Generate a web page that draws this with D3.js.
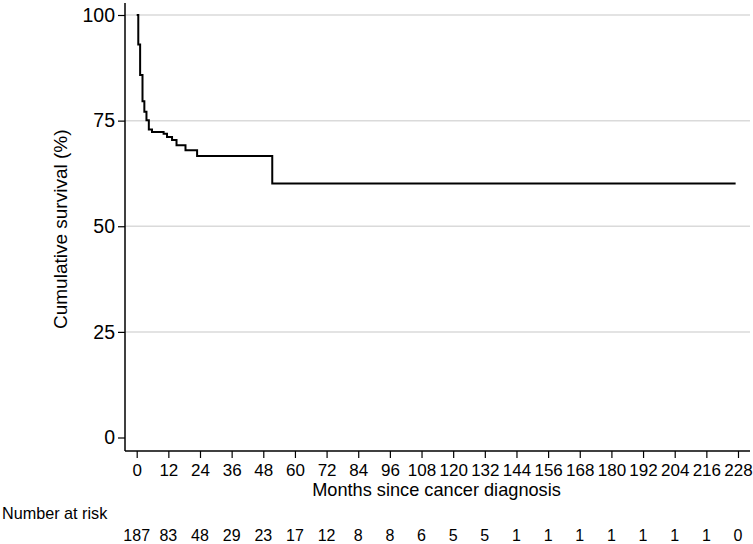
<!DOCTYPE html>
<html><head><meta charset="utf-8">
<script src="https://cdn.jsdelivr.net/npm/d3@7"></script>
<style>body{margin:0;background:#fff;} svg{display:block;font-family:"Liberation Sans",Arial,sans-serif;}</style>
</head><body>
<script>
const eventMonths = [0, 0.6, 1.3, 2.2, 2.9, 3.7, 4.6, 5.8, 10.2, 11.5, 13.4, 15.1, 18.5, 22.9, 51.4, 227.1];
const survivalPct = [100, 93.0, 85.8, 79.6, 77.1, 75.1, 72.9, 72.3, 71.9, 71.1, 70.4, 69.2, 68.0, 66.6, 60.1, 60.1];
const xTicks = [0,12,24,36,48,60,72,84,96,108,120,132,144,156,168,180,192,204,216,228];
const yTicks = [0,25,50,75,100];
const numberAtRisk = [187,83,48,29,23,17,12,8,8,6,5,5,1,1,1,1,1,1,1,0];

const W=753,H=544;
const svg=d3.select("body").append("svg").attr("width",W).attr("height",H);
const x=d3.scaleLinear().domain([0,228]).range([136.7,738]);
const y=d3.scaleLinear().domain([0,100]).range([437.5,15]);
const axL=125, axR=750, axB=451, axT=3;

// gridlines
svg.append("g").selectAll("line").data(yTicks.filter(d=>d>0)).join("line")
  .attr("x1",axL).attr("x2",axR).attr("y1",d=>y(d)).attr("y2",d=>y(d))
  .attr("stroke","#dadada").attr("stroke-width",1.5);

// y axis
const ya=svg.append("g").attr("transform",`translate(${axL},0)`)
  .call(d3.axisLeft(y).tickValues(yTicks).tickSize(7).tickPadding(3));
ya.select(".domain").remove();
ya.selectAll(".tick line").attr("stroke","#000").attr("stroke-width",1.2);
ya.selectAll(".tick text").attr("font-size",19.5).attr("fill","#000").attr("font-family","Liberation Sans, Arial, sans-serif");
svg.append("line").attr("x1",axL).attr("x2",axL).attr("y1",axT).attr("y2",axB).attr("stroke","#000").attr("stroke-width",1.5);

// x axis
const xa=svg.append("g").attr("transform",`translate(0,${axB})`)
  .call(d3.axisBottom(x).tickValues(xTicks).tickSize(7).tickPadding(6));
xa.select(".domain").remove();
xa.selectAll(".tick line").attr("stroke","#000").attr("stroke-width",1.2);
xa.selectAll(".tick text").attr("font-size",17).attr("fill","#000").attr("font-family","Liberation Sans, Arial, sans-serif");
svg.append("line").attr("x1",axL).attr("x2",axR).attr("y1",axB).attr("y2",axB).attr("stroke","#000").attr("stroke-width",1.5);

// curve
const pts=eventMonths.map((t,i)=>[t,survivalPct[i]]);
svg.append("path").datum(pts)
  .attr("d",d3.line().x(d=>x(d[0])).y(d=>y(d[1])).curve(d3.curveStepAfter))
  .attr("fill","none").attr("stroke","#000").attr("stroke-width",2);

// titles
svg.append("text").attr("x",(axL+axR)/2-1).attr("y",496).attr("text-anchor","middle")
  .attr("font-size",18.2).text("Months since cancer diagnosis");
svg.append("text").attr("transform",`translate(67,${y(50)+3}) rotate(-90)`).attr("text-anchor","middle")
  .attr("font-size",19).text("Cumulative survival (%)");
svg.append("text").attr("x",2).attr("y",519).attr("font-size",16.2).text("Number at risk");
svg.append("g").selectAll("text").data(numberAtRisk).join("text")
  .attr("x",(d,i)=>x(xTicks[i])).attr("y",540.5).attr("text-anchor","middle").attr("font-size",16).text(d=>d);
</script>
</body></html>
